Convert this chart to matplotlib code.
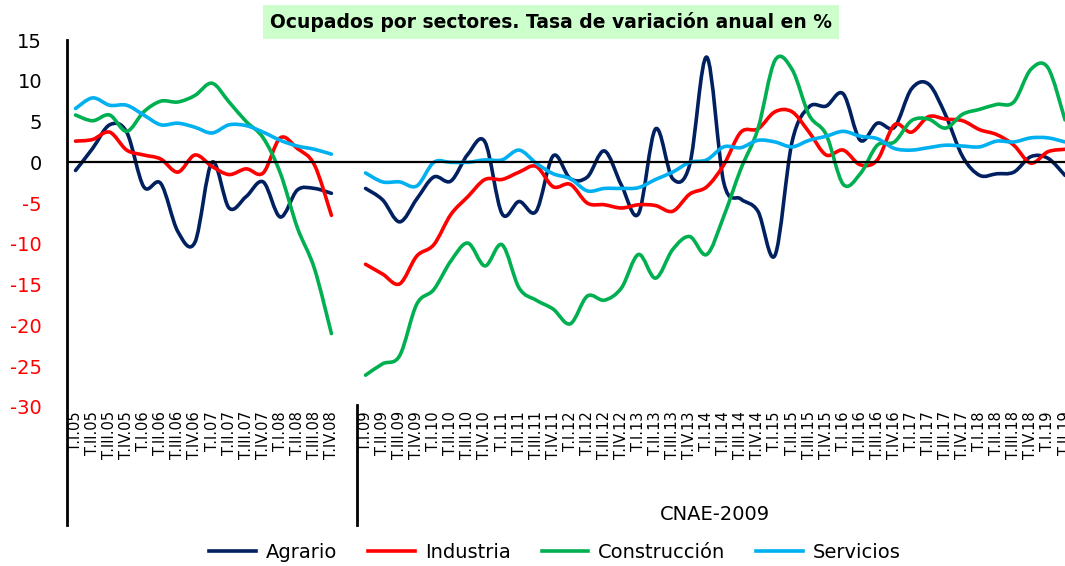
import matplotlib
matplotlib.use("Agg")
import matplotlib.pyplot as plt
from matplotlib.path import Path
from matplotlib.patches import PathPatch
from matplotlib.lines import Line2D
from matplotlib.transforms import blended_transform_factory

# ---- data (tasa de variacion anual, %) ----
quarters = ["T.I", "T.II", "T.III", "T.IV"]
years_cnae93 = ["05", "06", "07", "08"]
years_cnae09 = ["09", "10", "11", "12", "13", "14", "15", "16", "17", "18", "19"]

agrario_93 = [-1.0, 1.7, 4.6, 3.7, -3.0, -2.6, -8.5, -9.8, 0.0, -5.6, -4.2, -2.4, -6.7, -3.4, -3.2, -3.8]
industria_93 = [2.6, 2.8, 3.7, 1.5, 0.9, 0.4, -1.2, 0.9, -0.5, -1.5, -0.8, -1.3, 3.0, 1.7, -0.3, -6.5]
construccion_93 = [5.8, 5.1, 5.8, 3.8, 6.2, 7.5, 7.4, 8.2, 9.7, 7.4, 5.0, 3.0, -1.3, -8.0, -13.0, -21.0]
servicios_93 = [6.6, 7.9, 7.0, 7.0, 5.8, 4.6, 4.8, 4.3, 3.6, 4.6, 4.5, 3.7, 2.7, 2.0, 1.6, 1.0]

agrario_09 = [-3.2, -4.6, -7.3, -4.5, -1.8, -2.3, 1.0, 2.5, -6.3, -4.8, -6.0,
              0.8, -2.0, -1.8, 1.4, -2.8, -6.3, 4.1, -2.0, -0.3, 12.9,
              -2.5, -4.5, -6.0, -11.4, 2.5, 6.8, 6.9, 8.4, 2.7, 4.8,
              4.3, 9.0, 9.6, 5.8, 0.7, -1.6, -1.4, -1.2, 0.7, 0.5, -1.6]
industria_09 = [-12.5, -13.7, -14.9, -11.5, -10.1, -6.4, -4.2, -2.1, -2.1, -1.2, -0.5,
                -3.0, -2.7, -5.0, -5.2, -5.6, -5.2, -5.3, -6.0, -3.9, -3.0,
                -0.3, 3.7, 4.1, 6.2, 6.2, 3.7, 0.9, 1.5, -0.3, 0.3,
                4.6, 3.7, 5.6, 5.3, 5.1, 4.0, 3.4, 2.1, -0.1, 1.3, 1.6]
construccion_09 = [-26.1, -24.7, -23.7, -17.4, -15.6, -12.1, -9.9, -12.7, -10.1, -15.4, -16.9,
                   -18.0, -19.8, -16.4, -16.9, -15.4, -11.3, -14.2, -10.7, -9.1, -11.3,
                   -6.6, -0.8, 4.1, 12.5, 11.4, 5.8, 3.4, -2.7, -1.4, 2.1,
                   2.5, 5.1, 5.3, 4.2, 5.9, 6.5, 7.1, 7.4, 11.4, 11.6, 5.2]
servicios_09 = [-1.3, -2.4, -2.4, -2.9, 0.0, 0.0, 0.0, 0.3, 0.3, 1.5, -0.1,
                -1.4, -2.0, -3.5, -3.2, -3.2, -3.1, -2.1, -1.2, 0.0, 0.3,
                1.9, 1.8, 2.7, 2.5, 1.9, 2.7, 3.2, 3.8, 3.2, 2.9,
                1.7, 1.5, 1.8, 2.1, 2.0, 1.9, 2.6, 2.5, 3.0, 3.0, 2.5]

series = [
    ("Agrario", agrario_93, agrario_09, "#002060"),
    ("Industria", industria_93, industria_09, "#ff0000"),
    ("Construcción", construccion_93, construccion_09, "#00b050"),
    ("Servicios", servicios_93, servicios_09, "#00b0f0"),
]

labels_93 = [f"{q}.{y}" for y in years_cnae93 for q in quarters]
labels_09 = [f"{q}.{y}" for y in years_cnae09 for q in quarters][:len(agrario_09)]

# one empty category between the two CNAE periods
pos_93 = list(range(len(labels_93)))
start_09 = len(labels_93) + 1
pos_09 = list(range(start_09, start_09 + len(labels_09)))


def smooth_path(xs, ys):
    # Excel-like smoothed line: cubic Bezier through every point
    pts = list(zip(xs, ys))
    verts = [pts[0]]
    codes = [Path.MOVETO]
    n = len(pts)
    for i in range(n - 1):
        p0 = pts[max(i - 1, 0)]
        p1 = pts[i]
        p2 = pts[i + 1]
        p3 = pts[min(i + 2, n - 1)]
        c1 = (p1[0] + (p2[0] - p0[0]) / 6, p1[1] + (p2[1] - p0[1]) / 6)
        c2 = (p2[0] - (p3[0] - p1[0]) / 6, p2[1] - (p3[1] - p1[1]) / 6)
        verts += [c1, c2, p2]
        codes += [Path.CURVE4] * 3
    return Path(verts, codes)


W, H = 1065, 566
fig = plt.figure(figsize=(W / 100, H / 100), dpi=100)
ax = fig.add_axes([67 / W, 1 - 407 / H, (W - 67) / W, (407 - 40) / H])

for name, s93, s09, color in series:
    for xs, ys in ((pos_93, s93), (pos_09, s09)):
        patch = PathPatch(smooth_path(xs, ys), facecolor="none", edgecolor=color,
                          lw=2.6, capstyle="round", joinstyle="round")
        ax.add_patch(patch)

ax.axhline(0, color="black", lw=1.6, zorder=1)
ax.set_xlim(-0.5, 58.0)
ax.set_ylim(-30, 15)

for sp in ax.spines.values():
    sp.set_visible(False)

ax.set_xticks(pos_93 + pos_09)
ax.set_xticklabels(labels_93 + labels_09, rotation=90, fontsize=10.5, va="top")
ax.tick_params(axis="x", length=0, pad=3)

yt = list(range(-30, 16, 5))
ax.set_yticks(yt)
ax.set_yticklabels([str(v) for v in yt], fontsize=14)
ax.tick_params(axis="y", length=0, pad=18)
for lab, v in zip(ax.get_yticklabels(), yt):
    lab.set_color("#ff0000" if v < 0 else "black")

# vertical axis line and period separator extending into the label area
y_bottom = 1 - 525 / H
fig.add_artist(Line2D([67 / W, 67 / W], [y_bottom, 1 - 40 / H],
                      transform=fig.transFigure, color="black", lw=2))
tr = blended_transform_factory(ax.transData, fig.transFigure)
fig.add_artist(Line2D([start_09 - 0.5, start_09 - 0.5], [y_bottom, 1 - 405 / H],
                      transform=tr, color="black", lw=2))

fig.text(715 / W, 1 - 515 / H, "CNAE-2009", fontsize=14, ha="center", va="center")

fig.text(551 / W, 1 - 22 / H, "Ocupados por sectores. Tasa de variación anual en %",
         fontsize=13.5, fontweight="bold", ha="center", va="center",
         bbox=dict(facecolor="#ccffcc", edgecolor="none", pad=5))

handles = [Line2D([], [], color=c, lw=2.6) for _, _, _, c in series]
fig.legend(handles, [s[0] for s in series], loc="center", ncol=4,
           bbox_to_anchor=(555 / W, 1 - 552 / H), frameon=False, fontsize=14,
           handlelength=2.4, columnspacing=1.6, handletextpad=0.5)

fig.savefig("out.png", dpi=100)
